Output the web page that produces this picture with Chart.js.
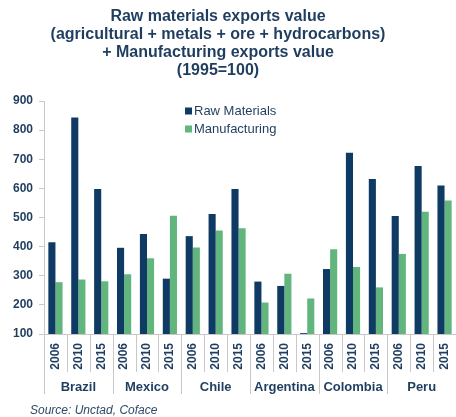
<!DOCTYPE html>
<html><head><meta charset="utf-8">
<script src="https://cdn.jsdelivr.net/npm/chart.js@4/dist/chart.umd.min.js"></script>
<style>html,body{margin:0;padding:0;background:#fff}#wrap{width:456px;height:417px;position:relative}</style>
</head><body><div id="wrap"><canvas id="c" width="456" height="417"></canvas></div>
<script>
const countries = ['Brazil','Mexico','Chile','Argentina','Colombia','Peru'];
const years = ['2006','2010','2015'];
const rawMaterials = [415,843,598, 396,443,290, 436,512,598, 280,265,103, 323,722,632, 505,677,610];
const manufacturing = [278,287,281, 305,360,506, 397,455,463, 208,307,222, 391,330,260, 375,520,558];
const yTicks = [100,200,300,400,500,600,700,800,900];
const titleLines = ['Raw materials exports value','(agricultural + metals + ore + hydrocarbons)','+ Manufacturing exports value','(1995=100)'];
const sourceText = 'Source: Unctad, Coface';

const NAVY = '#0e3a63', GREEN = '#63b57e', TXT = '#1f3d5f', GRID = '#c8c8c8';
const labels = [];
countries.forEach(c => years.forEach(y => labels.push(y)));

const decoPlugin = {
  id: 'deco',
  afterDraw(chart) {
    const ctx = chart.ctx;
    const xs = chart.scales.x, x2 = chart.scales.x2;
    const n = labels.length;
    const w = (xs.right - xs.left) / n;
    ctx.save();
    ctx.strokeStyle = GRID;
    ctx.lineWidth = 1;
    for (let i = 0; i <= n; i++) {
      const px = Math.round(xs.left + i * w) + 0.5;
      const bottom = (i % years.length === 0) ? x2.bottom : xs.bottom;
      ctx.beginPath();
      ctx.moveTo(px, xs.top);
      ctx.lineTo(px, bottom);
      ctx.stroke();
    }
    // title
    ctx.font = 'bold 16px "Liberation Sans", Arial, sans-serif';
    ctx.fillStyle = TXT;
    ctx.textAlign = 'center';
    ctx.textBaseline = 'middle';
    titleLines.forEach((t, i) => ctx.fillText(t, 218, 17 + i * 18));
    // legend
    ctx.textAlign = 'left';
    ctx.font = '13px "Liberation Sans", Arial, sans-serif';
    const items = [['Raw Materials', NAVY], ['Manufacturing', GREEN]];
    items.forEach((it, i) => {
      const y = 111 + i * 18;
      ctx.fillStyle = it[1];
      ctx.fillRect(185, y - 3.5, 7, 7);
      ctx.fillStyle = TXT;
      ctx.fillText(it[0], 194, y);
    });
    ctx.font = 'italic 12px "Liberation Sans", Arial, sans-serif';
    ctx.fillStyle = '#2d4a68';
    ctx.textBaseline = 'alphabetic';
    ctx.fillText(sourceText, 30, 414);
    ctx.restore();
  }
};

new Chart(document.getElementById('c'), {
  type: 'bar',
  data: {
    labels: labels,
    datasets: [
      { label: 'Raw Materials', data: rawMaterials, backgroundColor: NAVY, xAxisID: 'x', barPercentage: 1, categoryPercentage: 0.62 },
      { label: 'Manufacturing', data: manufacturing, backgroundColor: GREEN, xAxisID: 'x', barPercentage: 1, categoryPercentage: 0.62 }
    ]
  },
  options: {
    responsive: false,
    animation: false,
    devicePixelRatio: 1,
    layout: { padding: { left: 12, right: 0, top: 101, bottom: 23 } },
    plugins: {
      legend: { display: false },
      tooltip: { enabled: false },
      title: { display: false }
    },
    scales: {
      x: {
        type: 'category',
        position: 'bottom',
        offset: true,
        grid: { display: false, drawTicks: false },
        border: { display: true, color: GRID },
        afterFit(scale) { scale.height = 38; scale.paddingLeft = 0; scale.paddingRight = 0; },
        ticks: {
          color: TXT, minRotation: 90, maxRotation: 90, autoSkip: false, padding: 9,
          font: { family: '"Liberation Sans", Arial, sans-serif', size: 12, weight: 'bold' }
        }
      },
      x2: {
        type: 'category',
        position: 'bottom',
        labels: countries,
        offset: true,
        grid: { display: false, drawTicks: false },
        border: { display: false },
        afterFit(scale) { scale.height = 22; scale.paddingLeft = 0; scale.paddingRight = 0; },
        ticks: {
          color: TXT, autoSkip: false, maxRotation: 0, padding: 8,
          font: { family: '"Liberation Sans", Arial, sans-serif', size: 13, weight: 'bold' }
        }
      },
      y: {
        min: 100, max: 900,
        afterBuildTicks(axis) { axis.ticks = yTicks.map(v => ({ value: v })); },
        afterFit(scale) { scale.paddingTop = 0; scale.paddingBottom = 0; scale.width = 32; },
        grid: { display: true, drawOnChartArea: false, color: GRID, tickLength: 5 },
        border: { display: true, color: GRID },
        ticks: {
          color: TXT, padding: 6,
          font: { family: '"Liberation Sans", Arial, sans-serif', size: 12, weight: 'bold' }
        }
      }
    }
  },
  plugins: [decoPlugin]
});
</script></body></html>
